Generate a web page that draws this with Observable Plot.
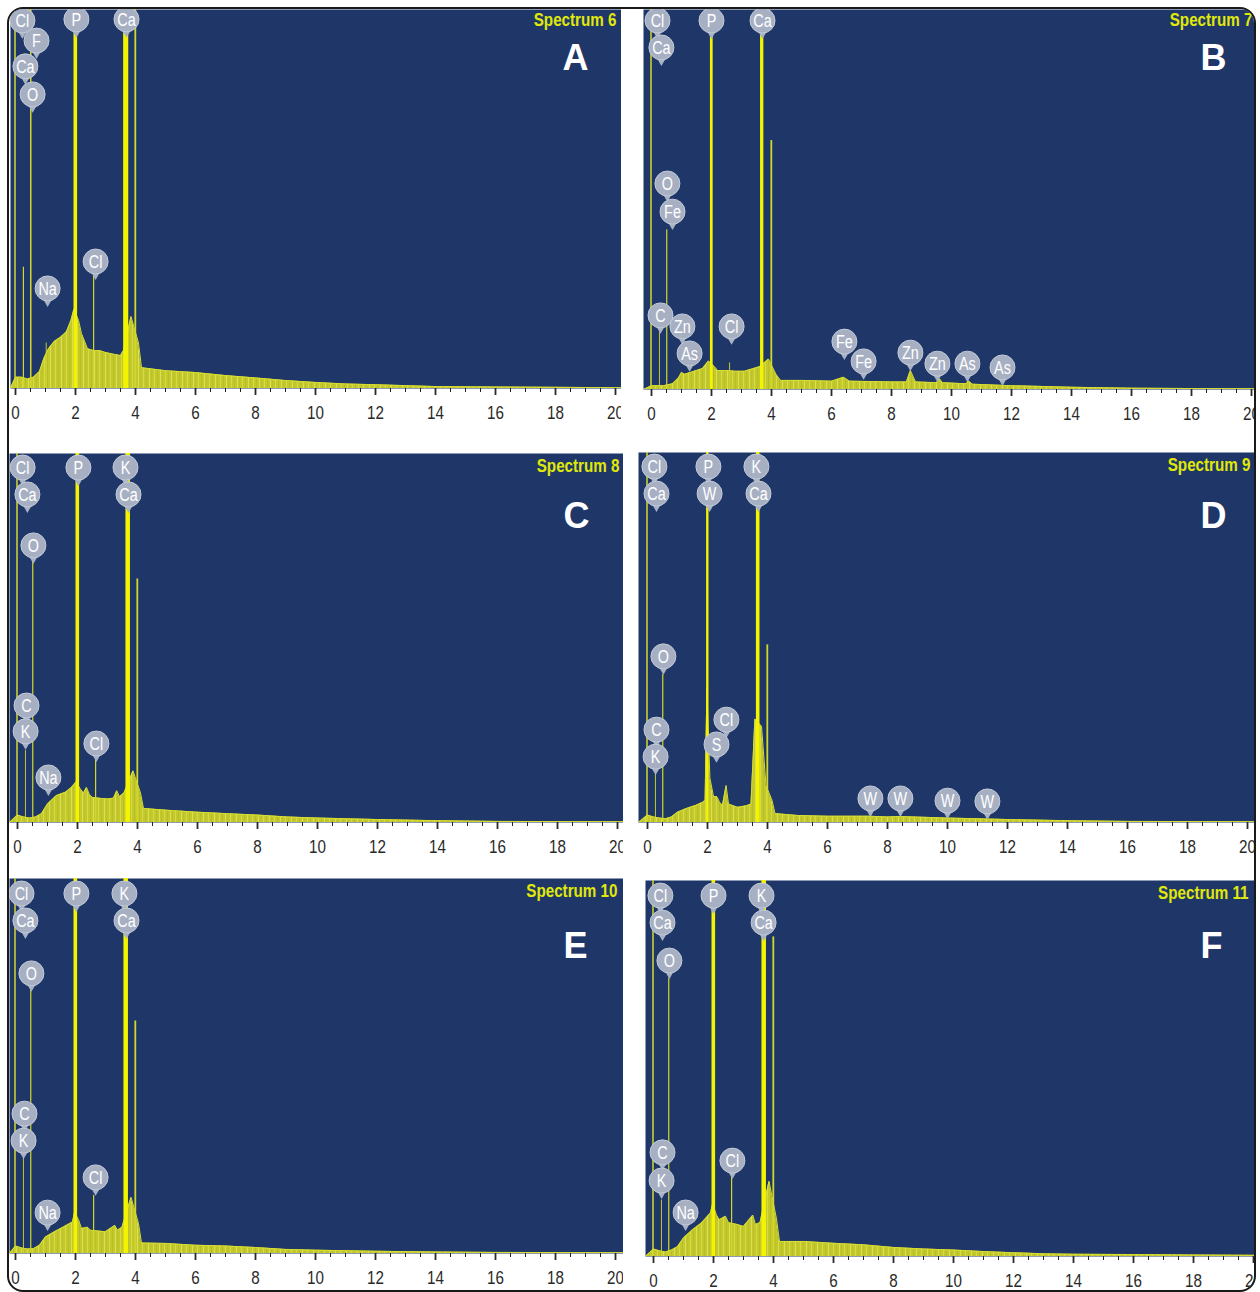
<!DOCTYPE html>
<html><head><meta charset="utf-8">
<script src="https://cdn.jsdelivr.net/npm/d3@7"></script>
<script src="https://cdn.jsdelivr.net/npm/@observablehq/plot@0.6"></script>
<style>
body{margin:0;background:#fff;}
#page{position:relative;width:1260px;height:1292px;background:#fff;overflow:hidden}
#frame{position:absolute;left:7px;top:7px;width:1245px;height:1281px;border:2px solid #1a1a1a;border-radius:16px;overflow:hidden;background:#fff}
.panel{position:absolute}
</style></head><body>
<div id="page"><div id="frame"></div></div>
<script>
// ---------- DATA ----------
const panelLetters = ["A", "B", "C", "D", "E", "F"];
const spectrumTitles = ["Spectrum 6", "Spectrum 7", "Spectrum 8", "Spectrum 9", "Spectrum 10", "Spectrum 11"];
const tickLabels = [0, 2, 4, 6, 8, 10, 12, 14, 16, 18, 20];

// continuum [energy keV, counts (% of full scale)]
const continuumA = [[-0.17,0],[0,3],[0.2,3],[0.4,2.5],[0.6,3],[0.8,4.5],[0.95,8],[1.1,10.5],[1.3,12.5],[1.5,13.5],[1.7,15],[1.85,18],[1.95,21],[2.1,18],[2.2,14.5],[2.4,10.5],[2.6,10],[2.8,10],[3.0,9.5],[3.3,9],[3.5,8.7],[3.6,10],[3.85,19],[4.1,12],[4.2,5.5],[5,4.7],[6,4.2],[7,3.4],[8,2.8],[9,2.1],[10,1.6],[11,1.2],[12,1],[14,0.5],[16,0.4],[18,0.3],[20.2,0.2]];
const continuumB = [[-0.27,0],[0,1],[0.4,1],[0.7,1.5],[0.9,3],[1.0,4.5],[1.1,4],[1.3,4.5],[1.5,5],[1.7,5.5],[1.9,7.5],[2.1,6],[2.2,5],[2.5,5],[2.8,4.8],[3.1,4.8],[3.4,5.5],[3.6,6],[3.9,8],[4.15,4],[4.3,2.4],[5,2.4],[6,2.2],[6.4,3.2],[6.6,2.2],[8,2],[8.5,2],[8.63,5],[8.8,2],[9.5,1.8],[9.6,2.8],[9.7,1.8],[10.5,1.5],[10.55,2.3],[10.7,1.4],[12,1],[14,0.6],[16,0.35],[18,0.25],[20.1,0.2]];
const continuumC = [[-0.27,0],[0,2],[0.2,1.5],[0.4,1.2],[0.6,1.5],[0.8,2.4],[1.0,5],[1.3,7.3],[1.6,8.2],[1.8,9.5],[1.95,11],[2.1,9],[2.2,8],[2.3,9.5],[2.4,7.5],[2.5,6.8],[2.8,6.5],[3.0,6.4],[3.2,6.6],[3.31,8.6],[3.4,7],[3.55,8],[3.85,14],[4.1,8],[4.2,3.8],[5,3.3],[6,2.8],[7,2.4],[8,2],[9,1.5],[10,1.2],[12,0.8],[14,0.5],[16,0.3],[18,0.25],[20.2,0.2]];
const continuumD = [[-0.3,0],[0,2],[0.2,1.5],[0.4,1.2],[0.6,1],[0.8,1.5],[1.0,2.8],[1.3,3.8],[1.6,4.6],[1.85,5.5],[1.92,6],[1.98,36],[2.08,12],[2.2,7],[2.31,7],[2.4,5.5],[2.5,4.6],[2.62,10],[2.7,5],[3.0,4.1],[3.3,4.5],[3.45,5],[3.58,28],[3.8,26],[3.95,10],[4.15,6],[4.25,2.4],[5,1.9],[6,1.7],[7.4,1.7],[8,1.5],[8.4,1.6],[10,1.2],[12,0.8],[14,0.5],[16,0.3],[18,0.25],[20.23,0.2]];
const continuumE = [[-0.2,0],[0,2],[0.2,1.5],[0.4,1.2],[0.6,1.3],[0.8,2.2],[1.0,4.4],[1.3,5.8],[1.6,7.1],[1.9,8.4],[1.97,11],[2.1,9],[2.2,6.7],[2.4,7],[2.5,6.2],[3.0,5.8],[3.31,7.5],[3.4,6.2],[3.55,7],[3.85,15],[4.1,8],[4.2,2.8],[5,2.7],[6,2.2],[7,2],[8,1.6],[9,1.1],[10,0.9],[12,0.6],[14,0.4],[16,0.3],[18,0.25],[20.27,0.2]];
const continuumF = [[-0.27,0],[0,2],[0.2,1.5],[0.4,1.2],[0.6,1.7],[0.8,2.6],[1.0,4.9],[1.3,7.1],[1.6,8.9],[1.9,11.6],[1.97,14],[2.1,11],[2.2,9.8],[2.4,10.7],[2.5,9],[2.8,8.5],[3.0,8],[3.31,11],[3.4,8.5],[3.55,9],[3.85,20],[4.1,10],[4.2,4],[5,4],[6,3.5],[7,3.1],[8,2.4],[9,2],[10,1.7],[11,1.3],[12,1],[13,0.7],[14,0.6],[16,0.5],[18,0.4],[20.03,0.3]];

// peaks [energy keV, height (% full scale, >100 = off scale), width keV]
const peaksA = [[0,110,0.05],[0.28,32,0.04],[0.525,110,0.05],[1.04,12,0.03],[2.01,110,0.12],[2.62,30,0.04],[3.69,110,0.17],[4.01,110,0.06]];
const peaksB = [[0,110,0.05],[0.28,15,0.03],[0.525,42,0.04],[2.01,110,0.09],[2.62,7,0.03],[3.69,110,0.11],[4.01,65.5,0.06]];
const peaksC = [[0,110,0.05],[0.28,19.5,0.03],[0.525,71,0.04],[2.01,110,0.12],[2.62,17,0.04],[3.69,110,0.15],[4.01,66,0.06]];
const peaksD = [[0,110,0.05],[0.28,13,0.03],[0.525,40,0.04],[2.01,110,0.08],[3.69,110,0.12],[4.01,48,0.06]];
const peaksE = [[0,110,0.05],[0.28,25.6,0.03],[0.525,71,0.04],[2.01,110,0.12],[2.62,15.5,0.04],[3.69,110,0.15],[4.01,62,0.06]];
const peaksF = [[0,110,0.05],[0.28,15,0.03],[0.525,74,0.04],[2.01,110,0.12],[2.62,21,0.04],[3.69,110,0.15],[4.01,85,0.06]];

// element markers [element, energy keV, level]
const labelsA = [["Cl",0.23,97.1],["F",0.7,91.8],["Ca",0.33,85],["O",0.57,77.6],["P",2.03,97.4],["Ca",3.7,97.4],["Cl",2.67,33.5],["Na",1.07,26.4]];
const labelsB = [["Cl",0.2,97.1],["Ca",0.33,90],["P",2.0,97.1],["Ca",3.7,97.1],["O",0.53,54.2],["Fe",0.7,46.8],["C",0.3,19.5],["Zn",1.03,16.6],["As",1.27,9.5],["Cl",2.67,16.6],["Fe",6.43,12.6],["Fe",7.07,7.4],["Zn",8.63,9.7],["Zn",9.53,6.8],["As",10.53,6.8],["As",11.7,5.8]];
const labelsC = [["Cl",0.17,96.2],["Ca",0.33,88.9],["P",2.03,96.2],["K",3.6,96.2],["Ca",3.7,88.9],["O",0.53,75.1],["C",0.3,31.7],["K",0.27,24.7],["Cl",2.63,21.4],["Na",1.03,12.2]];
const labelsD = [["Cl",0.23,96.2],["Ca",0.3,88.9],["P",2.03,96.2],["W",2.07,88.9],["K",3.63,96.2],["Ca",3.7,88.9],["O",0.53,44.9],["C",0.3,25.1],["K",0.27,17.8],["Cl",2.63,27.8],["S",2.3,21.1],["W",7.43,6.5],["W",8.43,6.5],["W",10.0,5.9],["W",11.33,5.7]];
const labelsE = [["Cl",0.2,96],["Ca",0.33,88.8],["P",2.03,96],["K",3.63,96],["Ca",3.7,88.8],["O",0.53,74.7],["C",0.3,37.3],["K",0.27,30.1],["Cl",2.67,20.3],["Na",1.07,10.9]];
const labelsF = [["Cl",0.23,96],["Ca",0.3,88.8],["P",2.0,96],["K",3.6,96],["Ca",3.67,88.8],["O",0.53,78.7],["C",0.3,27.7],["K",0.27,20.2],["Cl",2.63,25.5],["Na",1.07,11.7]];

// ---------- LAYOUT (page pixels) ----------
const layout = [
  {L:10,  R:621,  T:9,   B:388,  x0:15,  titleDx:-5, titleDy:10, letterDx:-46, letterDy:49},
  {L:643, R:1254, T:9,   B:389,  x0:651, titleDx:-2, titleDy:10, letterDx:-41, letterDy:49},
  {L:9,   R:623,  T:453, B:822,  x0:17,  titleDx:-4, titleDy:12, letterDx:-47, letterDy:63},
  {L:638, R:1254, T:452, B:822,  x0:647, titleDx:-4, titleDy:12, letterDx:-41, letterDy:64},
  {L:9,   R:623,  T:878, B:1253, x0:15,  titleDx:-6, titleDy:12, letterDx:-48, letterDy:68},
  {L:645, R:1254, T:880, B:1256, x0:653, titleDx:-6, titleDy:12, letterDx:-43, letterDy:66}
];
const continua = [continuumA, continuumB, continuumC, continuumD, continuumE, continuumF];
const peakSets = [peaksA, peaksB, peaksC, peaksD, peaksE, peaksF];
const labelSets = [labelsA, labelsB, labelsC, labelsD, labelsE, labelsF];

const NAVY = "#1e3768";
const SANS = "'Liberation Sans', Arial, sans-serif";
const frameEl = document.getElementById("frame");
const ORIGIN = 9;

// condense text horizontally (emulates a narrow face)
function condense(svg, factor) {
  svg.querySelectorAll("text").forEach(t => {
    if (t.closest(".nocondense")) return;
    const len = t.getComputedTextLength();
    if (len > 0) {
      t.setAttribute("textLength", (len * factor).toFixed(2));
      t.setAttribute("lengthAdjust", "spacingAndGlyphs");
    }
  });
}

// striped texture for the continuum fill
function addStripes(svg, id) {
  const ns = "http://www.w3.org/2000/svg";
  const defs = document.createElementNS(ns, "defs");
  const pat = document.createElementNS(ns, "pattern");
  pat.setAttribute("id", id);
  pat.setAttribute("patternUnits", "userSpaceOnUse");
  pat.setAttribute("width", "11");
  pat.setAttribute("height", "10");
  const base = document.createElementNS(ns, "rect");
  base.setAttribute("width", "11"); base.setAttribute("height", "10"); base.setAttribute("fill", "#c3c82b");
  pat.appendChild(base);
  [[1, "#d6da45"], [4, "#b8bd2a"], [7, "#dadf55"], [9, "#bcc12c"]].forEach(([x, c]) => {
    const r = document.createElementNS(ns, "rect");
    r.setAttribute("x", x); r.setAttribute("width", "1"); r.setAttribute("height", "10"); r.setAttribute("fill", c);
    pat.appendChild(r);
  });
  defs.appendChild(pat);
  svg.insertBefore(defs, svg.firstChild);
}

layout.forEach((g, i) => {
  const W = g.R - g.L, H = g.B - g.T, MB = 42;
  const cont = continua[i].map(([e, c]) => ({e, c}));
  const peaks = peakSets[i].map(([e, h, w]) => ({e, h, w}));
  const labels = labelSets[i].map(([t, e, y]) => ({t, e, y}));
  const major = peaks.filter(d => d.w >= 0.08);
  const minor = peaks.filter(d => d.w < 0.08);
  const pid = "stripes" + i;
  const chart = Plot.plot({
    width: W, height: H + MB,
    marginLeft: 0, marginRight: 0, marginTop: 0, marginBottom: MB,
    x: {domain: [(g.L - g.x0) / 30, (g.R - g.x0) / 30], label: null},
    y: {domain: [0, 100], axis: null},
    style: {background: "transparent", fontFamily: SANS},
    marks: [
      Plot.frame({fill: NAVY, stroke: "none"}),
      Plot.areaY(cont, {x: "e", y: "c", fill: `url(#${pid})`, clip: true}),
      Plot.lineY(cont, {x: "e", y: "c", stroke: "#d9de30", strokeWidth: 1, clip: true}),
      Plot.rect(minor, {x1: d => d.e - d.w / 2, x2: d => d.e + d.w / 2, y1: 0, y2: "h", fill: "#d2d82a", clip: true}),
      Plot.rect(major, {x1: d => d.e - d.w / 2, x2: d => d.e + d.w / 2, y1: 0, y2: "h", fill: "#f4f400", clip: true}),
      Plot.axisX({ticks: d3.range(0, 20.01, 0.5), tickSize: 4, tickFormat: () => "", color: "#222", label: null}),
      Plot.axisX({ticks: tickLabels, tickSize: 7, tickPadding: 10, strokeWidth: 1.8, color: "#2a2a2a", fontSize: 19, fontFamily: SANS, label: null}),
      Plot.dot(labels, {x: "e", y: "y", symbol: "triangle", r: 3.5, rotate: 180, dy: 13, fill: "#a9b2c5"}),
      Plot.dot(labels, {x: "e", y: "y", r: 12.5, fill: "#a7b0c3", stroke: "#c4cbd8", strokeWidth: 1}),
      Plot.text(labels, {x: "e", y: "y", text: "t", fill: "white", fontSize: 18, fontFamily: SANS, dy: 0.5}),
      Plot.text([spectrumTitles[i]], {frameAnchor: "top-right", text: d => d, dx: g.titleDx, dy: g.titleDy, lineAnchor: "middle", fill: "#e0e80a", fontSize: 19, fontWeight: "bold", fontFamily: SANS}),
      Plot.text([panelLetters[i]], {frameAnchor: "top-right", text: d => d, dx: g.letterDx, dy: g.letterDy, textAnchor: "middle", lineAnchor: "middle", fill: "white", fontSize: 36, fontWeight: "bold", fontFamily: SANS, className: "nocondense"})
    ]
  });
  addStripes(chart, pid);
  const div = document.createElement("div");
  div.className = "panel";
  div.style.left = (g.L - ORIGIN) + "px";
  div.style.top = (g.T - ORIGIN) + "px";
  div.appendChild(chart);
  frameEl.appendChild(div);
  condense(chart, 0.8);
});
</script>
</body></html>
